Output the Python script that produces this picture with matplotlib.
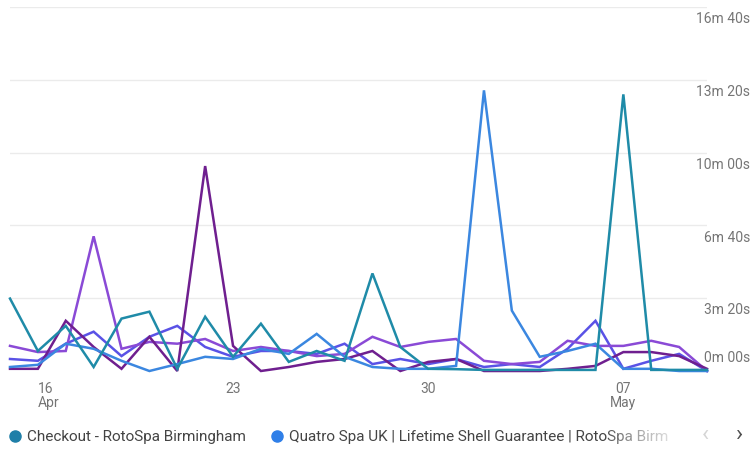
import numpy as np
import pandas as pd
import matplotlib
matplotlib.use("Agg")
import matplotlib.pyplot as plt
import matplotlib.dates as mdates
from matplotlib.lines import Line2D

plt.rcParams['font.family'] = ['Roboto', 'DejaVu Sans']

# daily values, seconds
days = pd.date_range("2024-04-15", "2024-05-10", freq="D")

checkout = [199, 55, 124, 11, 144, 163, 6, 149, 39, 130, 25, 55, 28,
            268, 66, 6, 5, 3, 3, 3, 3, 3, 760, 3, 3, 3]
quatro = [11, 17, 75, 61, 28, 0, 19, 39, 33, 61, 47, 102, 39,
          11, 6, 6, 14, 771, 166, 39, 55, 75, 6, 6, 0, 0]
page_3 = [69, 52, 55, 370, 61, 80, 75, 88, 55, 66, 55, 41, 47,
          94, 66, 80, 88, 28, 19, 25, 83, 69, 69, 83, 66, 0]
page_4 = [6, 6, 138, 66, 6, 94, 0, 563, 69, 0, 11, 25, 33,
          55, 0, 25, 33, 0, 0, 0, 6, 14, 52, 52, 41, 6]
page_5 = [33, 28, 75, 108, 41, 94, 124, 66, 39, 55, 55, 47, 75,
          19, 33, 19, 33, 11, 19, 11, 61, 138, 6, 28, 47, 0]

series = [
    (page_5, "#5a52e6"),
    (page_3, "#8a4ad6"),
    (page_4, "#6f1f8f"),
    (quatro, "#3b87e0"),
    (checkout, "#1f8ba8"),
]

yticks = [0, 200, 400, 600, 800, 1000]
ylabels = ["0m 00s", "3m 20s", "6m 40s", "10m 00s", "13m 20s", "16m 40s"]

xtick_days = ["2024-04-16", "2024-04-23", "2024-04-30", "2024-05-07"]
xtick_labels = ["16\nApr", "23", "30", "07\nMay"]

fig = plt.figure(figsize=(7.55, 4.52), dpi=100)
ax = fig.add_axes([10 / 755, 1 - 372 / 452, 697 / 755, 364 / 452])

for vals, col in series:
    ax.plot(days, vals, color=col, lw=1.8, clip_on=False, solid_joinstyle='miter')

ax.set_xlim(days[0], days[-1])
ax.set_ylim(0, 1000)
ax.set_yticks(yticks[1:])
ax.yaxis.grid(True, color="#ebebeb", lw=1)
ax.set_axisbelow(True)
ax.tick_params(axis='y', length=0, labelleft=False, labelright=False)
for s in ax.spines.values():
    s.set_visible(False)

# y labels on the right, below their gridline
for v, lab in zip(yticks, ylabels):
    if v == 0:
        ax.annotate(lab, xy=(1.062, v), xycoords=ax.get_yaxis_transform(),
                    xytext=(0, 5), textcoords='offset points',
                    ha='right', va='bottom', color="#757575", fontsize=10)
    else:
        ax.annotate(lab, xy=(1.062, v), xycoords=ax.get_yaxis_transform(),
                    xytext=(0, -3), textcoords='offset points',
                    ha='right', va='top', color="#757575", fontsize=10)

ax.set_xticks(pd.to_datetime(xtick_days))
ax.set_xticklabels(xtick_labels, color="#757575", fontsize=10, linespacing=1.0)
ax.tick_params(axis='x', length=0, pad=7)
lbls = ax.get_xticklabels()
lbls[0].set_ha('left')

# legend row
ly = 1 - 437 / 452
fig.add_artist(Line2D([15 / 755], [ly], marker='o', ms=8, color="#1f7fa8",
                      transform=fig.transFigure))
fig.text(27 / 755, ly, "Checkout - RotoSpa Birmingham", color="#444444",
         fontsize=11, va='center')
fig.add_artist(Line2D([277 / 755], [ly], marker='o', ms=8, color="#2f7fe8",
                      transform=fig.transFigure))
fig.text(289 / 755, ly, "Quatro Spa UK | Lifetime Shell Guarantee | RotoSpa Birm",
         color="#444444", fontsize=11, va='center')

# fade out the clipped legend text
fade = fig.add_axes([605 / 755, ly - 0.035, 85 / 755, 0.07], zorder=10)
grad = np.ones((1, 64, 4))
grad[0, :, 3] = np.linspace(0, 1, 64) ** 0.7
fade.imshow(grad, aspect='auto', extent=(0, 1, 0, 1))
fade.axis('off')

fig.text(705 / 755, ly + 0.005, "‹", color="#d5d5d5", fontsize=17, ha='center', va='center')
fig.text(740 / 755, ly + 0.005, "›", color="#505050", fontsize=17, ha='center', va='center')

fig.savefig("out.png", dpi=100)
